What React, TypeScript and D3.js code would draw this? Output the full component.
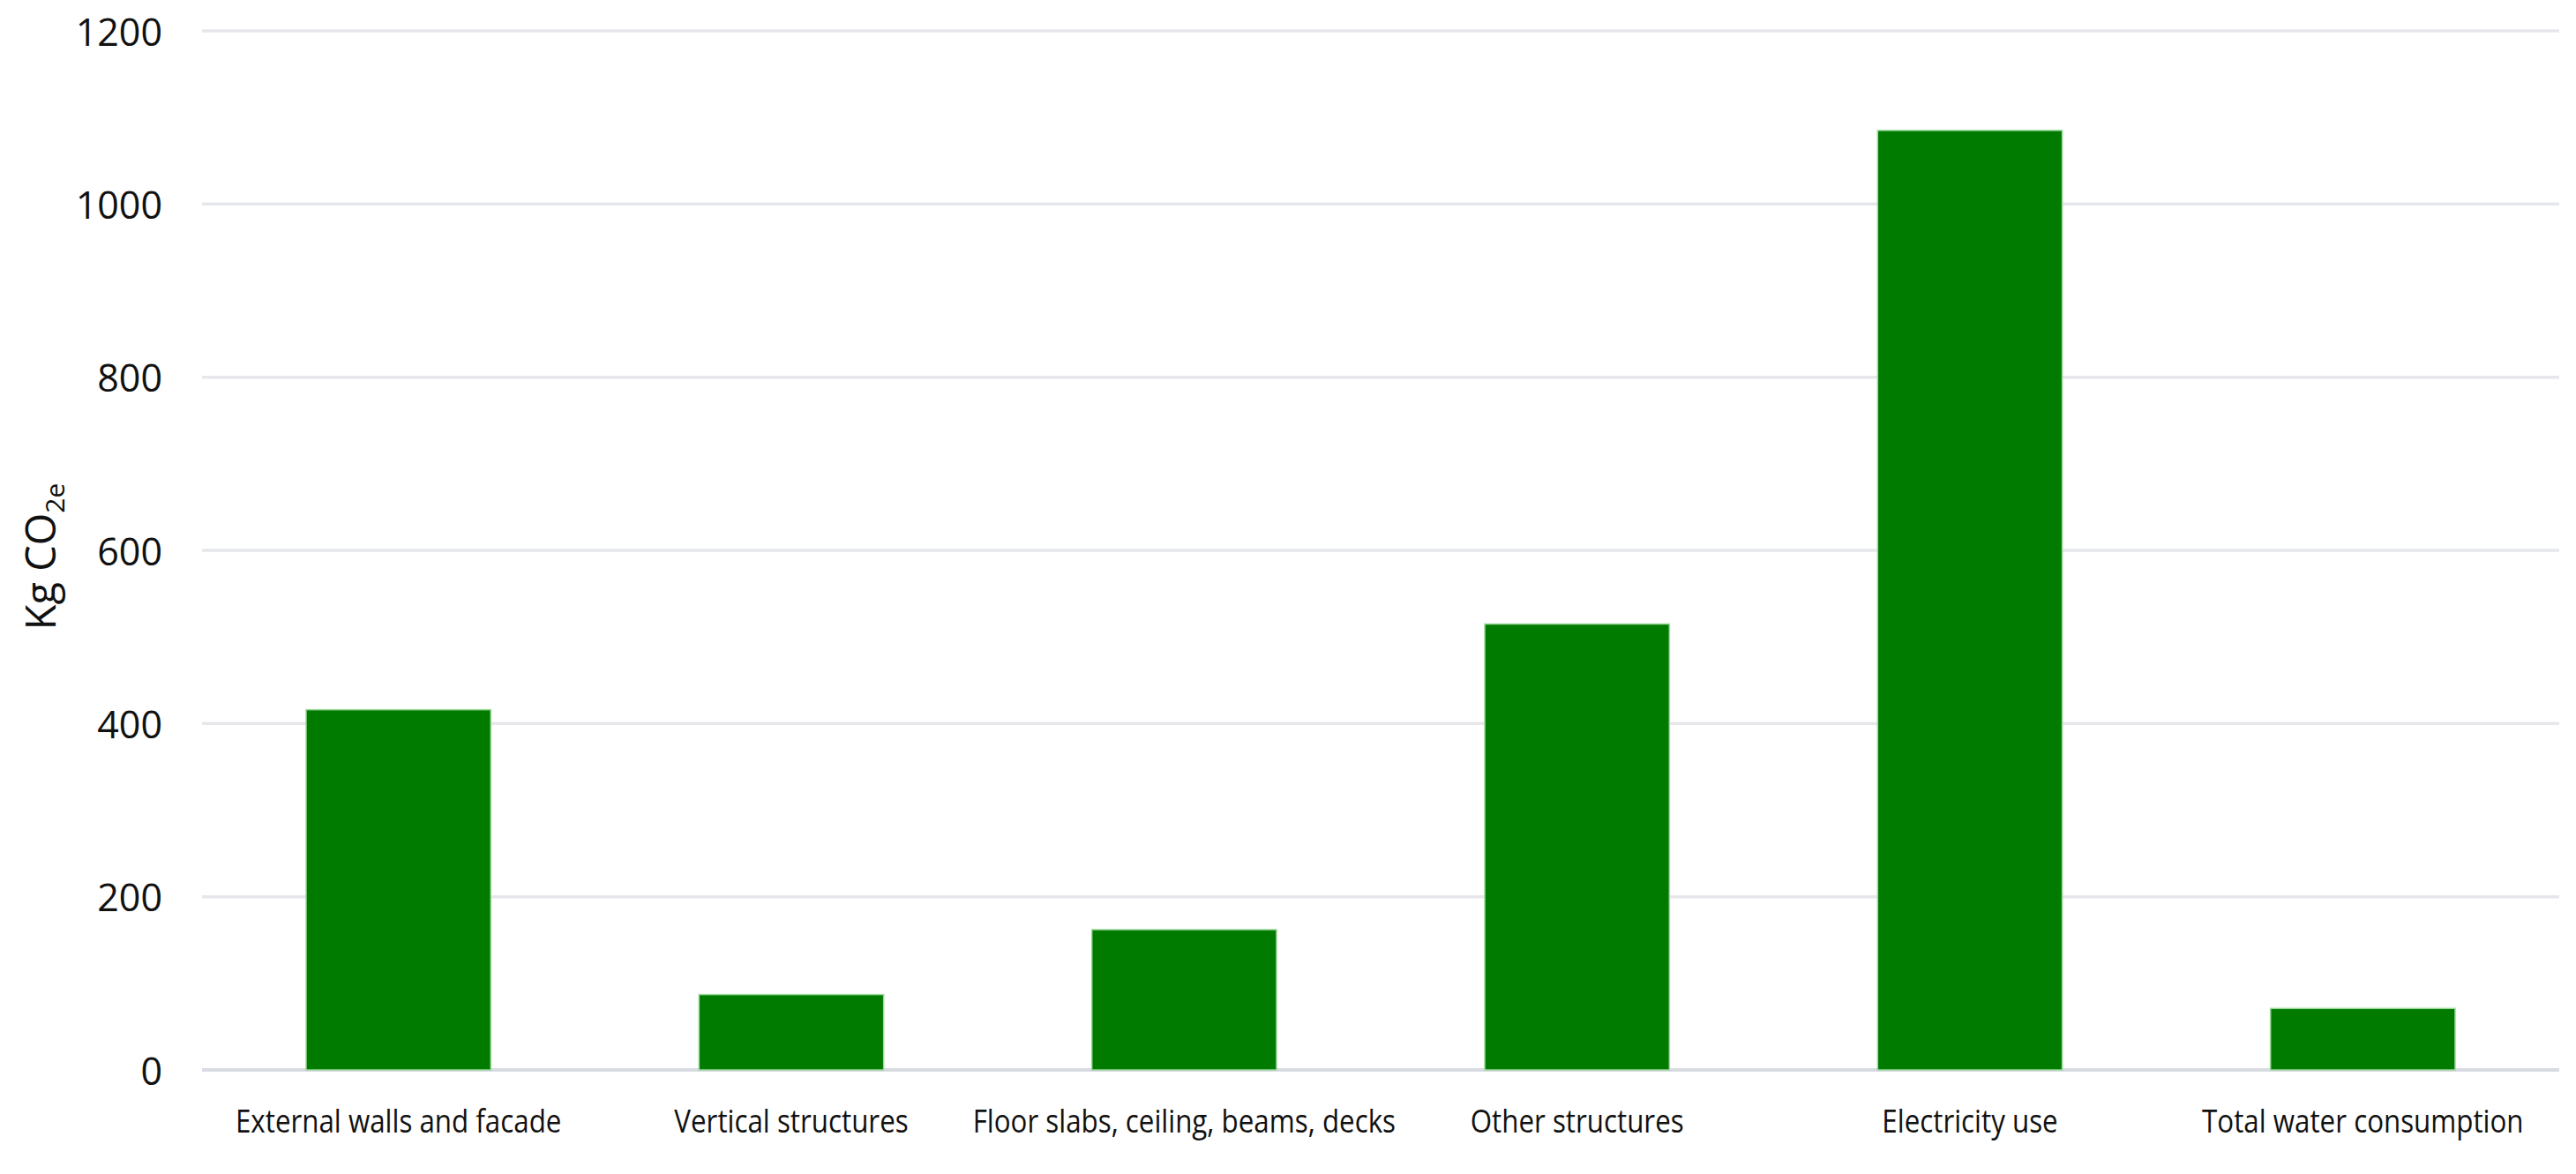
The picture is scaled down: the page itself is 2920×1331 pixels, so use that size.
import React from "react";
import * as d3 from "d3";

const categories: string[] = [
  "External walls and facade",
  "Vertical structures",
  "Floor slabs, ceiling, beams, decks",
  "Other structures",
  "Electricity use",
  "Total water consumption",
];
const values: number[] = [416, 87, 162, 515, 1085, 71];
const yTicks: number[] = [0, 200, 400, 600, 800, 1000, 1200];

const W = 2920;
const H = 1331;
const margin = { left: 229, right: 19, top: 35, bottom: 118 };

export default function App() {
  const x = d3
    .scaleBand<string>()
    .domain(categories)
    .range([margin.left, W - margin.right])
    .paddingInner(0.53)
    .paddingOuter(0.265);
  const y = d3
    .scaleLinear()
    .domain([0, 1200])
    .range([H - margin.bottom, margin.top]);

  const font = "'Open Sans', 'Segoe UI', Arial, sans-serif";

  return (
    <svg
      width={W}
      height={H}
      style={{ position: "absolute", left: 0, top: 0, background: "#fff" }}
    >
      {yTicks.map((t) => (
        <g key={t}>
          <line
            x1={margin.left}
            x2={W - margin.right}
            y1={y(t)}
            y2={y(t)}
            stroke={t === 0 ? "#d8dbe2" : "#e6e7ea"}
            strokeWidth={t === 0 ? 4 : 3.5}
          />
          <text
            x={184}
            y={y(t)}
            textAnchor="end"
            dominantBaseline="central"
            fontFamily={font}
            fontSize={43}
            fill="#111"
          >
            {t}
          </text>
        </g>
      ))}
      {categories.map((c, i) => (
        <rect
          key={c}
          x={x(c)}
          y={y(values[i])}
          width={x.bandwidth()}
          height={y(0) - y(values[i])}
          fill="#007b00"
          stroke="#9ad89a"
          strokeWidth={1.5}
        />
      ))}
      {categories.map((c) => (
        <text
          key={c}
          transform={`translate(${(x(c) as number) + x.bandwidth() / 2}, 1284) scale(0.87, 1)`}
          textAnchor="middle"
          fontFamily={font}
          fontSize={36}
          fill="#111"
        >
          {c}
        </text>
      ))}
      <text
        transform={`translate(63, 631) rotate(-90)`}
        textAnchor="middle"
        fontFamily={font}
        fontSize={47}
        fill="#111"
      >
        Kg CO
        <tspan fontSize={30} dy={10}>
          2e
        </tspan>
      </text>
    </svg>
  );
}
